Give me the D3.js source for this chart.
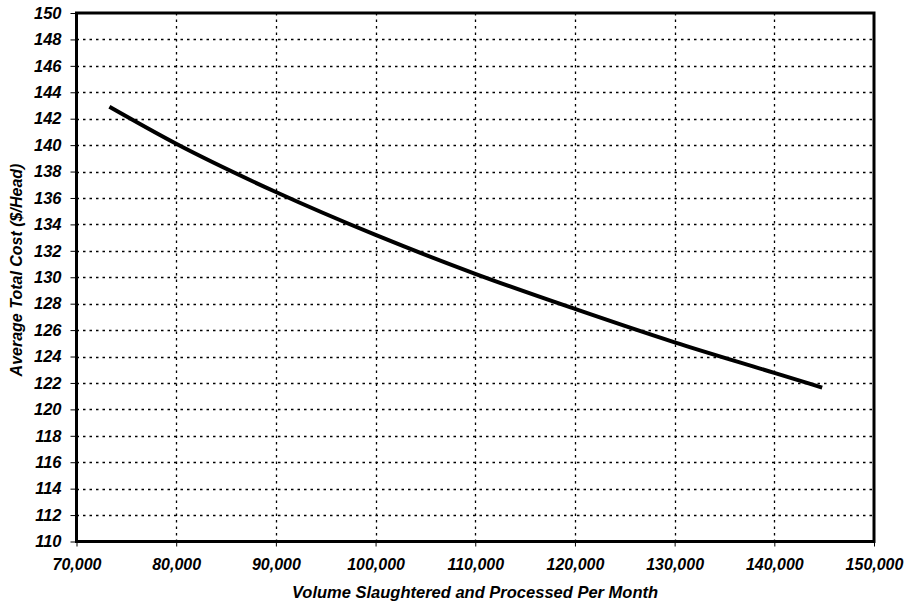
<!DOCTYPE html>
<html>
<head>
<meta charset="utf-8">
<script src="https://cdn.jsdelivr.net/npm/d3@7"></script>
<style>
  html, body { margin: 0; padding: 0; background: #fff; }
  svg { display: block; }
  text { font-family: "Liberation Sans", Arial, sans-serif; font-weight: bold; font-style: italic; fill: #000; }
</style>
</head>
<body>
<svg id="chart" width="911" height="603"></svg>
<script>
// Data
const volumes = [73300, 80000, 90000, 100000, 110000, 120000, 130000, 140000, 144800];
const avgCost = [142.9, 140.1, 136.45, 133.2, 130.26, 127.6, 125.07, 122.76, 121.65];
const xTicks = [70000, 80000, 90000, 100000, 110000, 120000, 130000, 140000, 150000];
const yTicks = [110,112,114,116,118,120,122,124,126,128,130,132,134,136,138,140,142,144,146,148,150];
const xTitle = "Volume Slaughtered and Processed Per Month";
const yTitle = "Average Total Cost ($/Head)";

(function () {
const svg = d3.select("#chart");
const pLeft = 76.5, pRight = 874, pTop = 13, pBottom = 541.5;

const x = d3.scaleLinear().domain([70000, 150000]).range([pLeft, pRight]);
const y = d3.scaleLinear().domain([110, 150]).range([pBottom, pTop]);

// gridlines
const grid = svg.append("g");
grid.selectAll(".hg").data(yTicks.filter(v => v > 110 && v < 150)).enter()
  .append("line")
  .attr("x1", pLeft).attr("x2", pRight)
  .attr("y1", d => Math.round(y(d)) + 0.5).attr("y2", d => Math.round(y(d)) + 0.5)
  .attr("stroke", "#000").attr("stroke-width", 1.3).attr("stroke-dasharray", "2.5,4");
grid.selectAll(".vg").data(xTicks.filter(v => v > 70000 && v < 150000)).enter()
  .append("line")
  .attr("y1", pTop).attr("y2", pBottom)
  .attr("x1", d => Math.round(x(d)) + 0.5).attr("x2", d => Math.round(x(d)) + 0.5)
  .attr("stroke", "#000").attr("stroke-width", 1.3).attr("stroke-dasharray", "2.5,4");

// axes
const yAxis = d3.axisLeft(y).tickValues(yTicks).tickSize(6).tickPadding(9).tickFormat(d3.format("d"));
const xAxis = d3.axisBottom(x).tickValues(xTicks).tickSize(5).tickPadding(12).tickFormat(d3.format(","));

const gy = svg.append("g").attr("transform", `translate(${pLeft},0)`).call(yAxis);
gy.attr("font-family", null).attr("font-size", null);
gy.select(".domain").remove();
gy.selectAll("text").style("font-size", "16.5px");
gy.selectAll(".tick line").attr("stroke", "#000").attr("stroke-width", 1);

const gx = svg.append("g").attr("transform", `translate(0,${pBottom})`).call(xAxis);
gx.attr("font-family", null).attr("font-size", null);
gx.select(".domain").remove();
gx.selectAll("text").style("font-size", "16px");
gx.selectAll(".tick line").attr("stroke", "#000").attr("stroke-width", 1);

// plot border
svg.append("rect")
  .attr("x", pLeft).attr("y", pTop)
  .attr("width", pRight - pLeft).attr("height", pBottom - pTop)
  .attr("fill", "none").attr("stroke", "#000").attr("stroke-width", 3);

// curve
const pts = volumes.map((v, i) => [v, avgCost[i]]);
svg.append("path")
  .datum(pts)
  .attr("d", d3.line().x(d => x(d[0])).y(d => y(d[1])).curve(d3.curveMonotoneX))
  .attr("fill", "none").attr("stroke", "#000").attr("stroke-width", 4).attr("stroke-linecap", "butt");

// titles
svg.append("text")
  .attr("x", 475).attr("y", 598)
  .attr("text-anchor", "middle").style("font-size", "16.5px")
  .text(xTitle);
svg.append("text")
  .attr("transform", `translate(22,270) rotate(-90)`)
  .attr("text-anchor", "middle").style("font-size", "16px")
  .text(yTitle);
})();
</script>
</body>
</html>
